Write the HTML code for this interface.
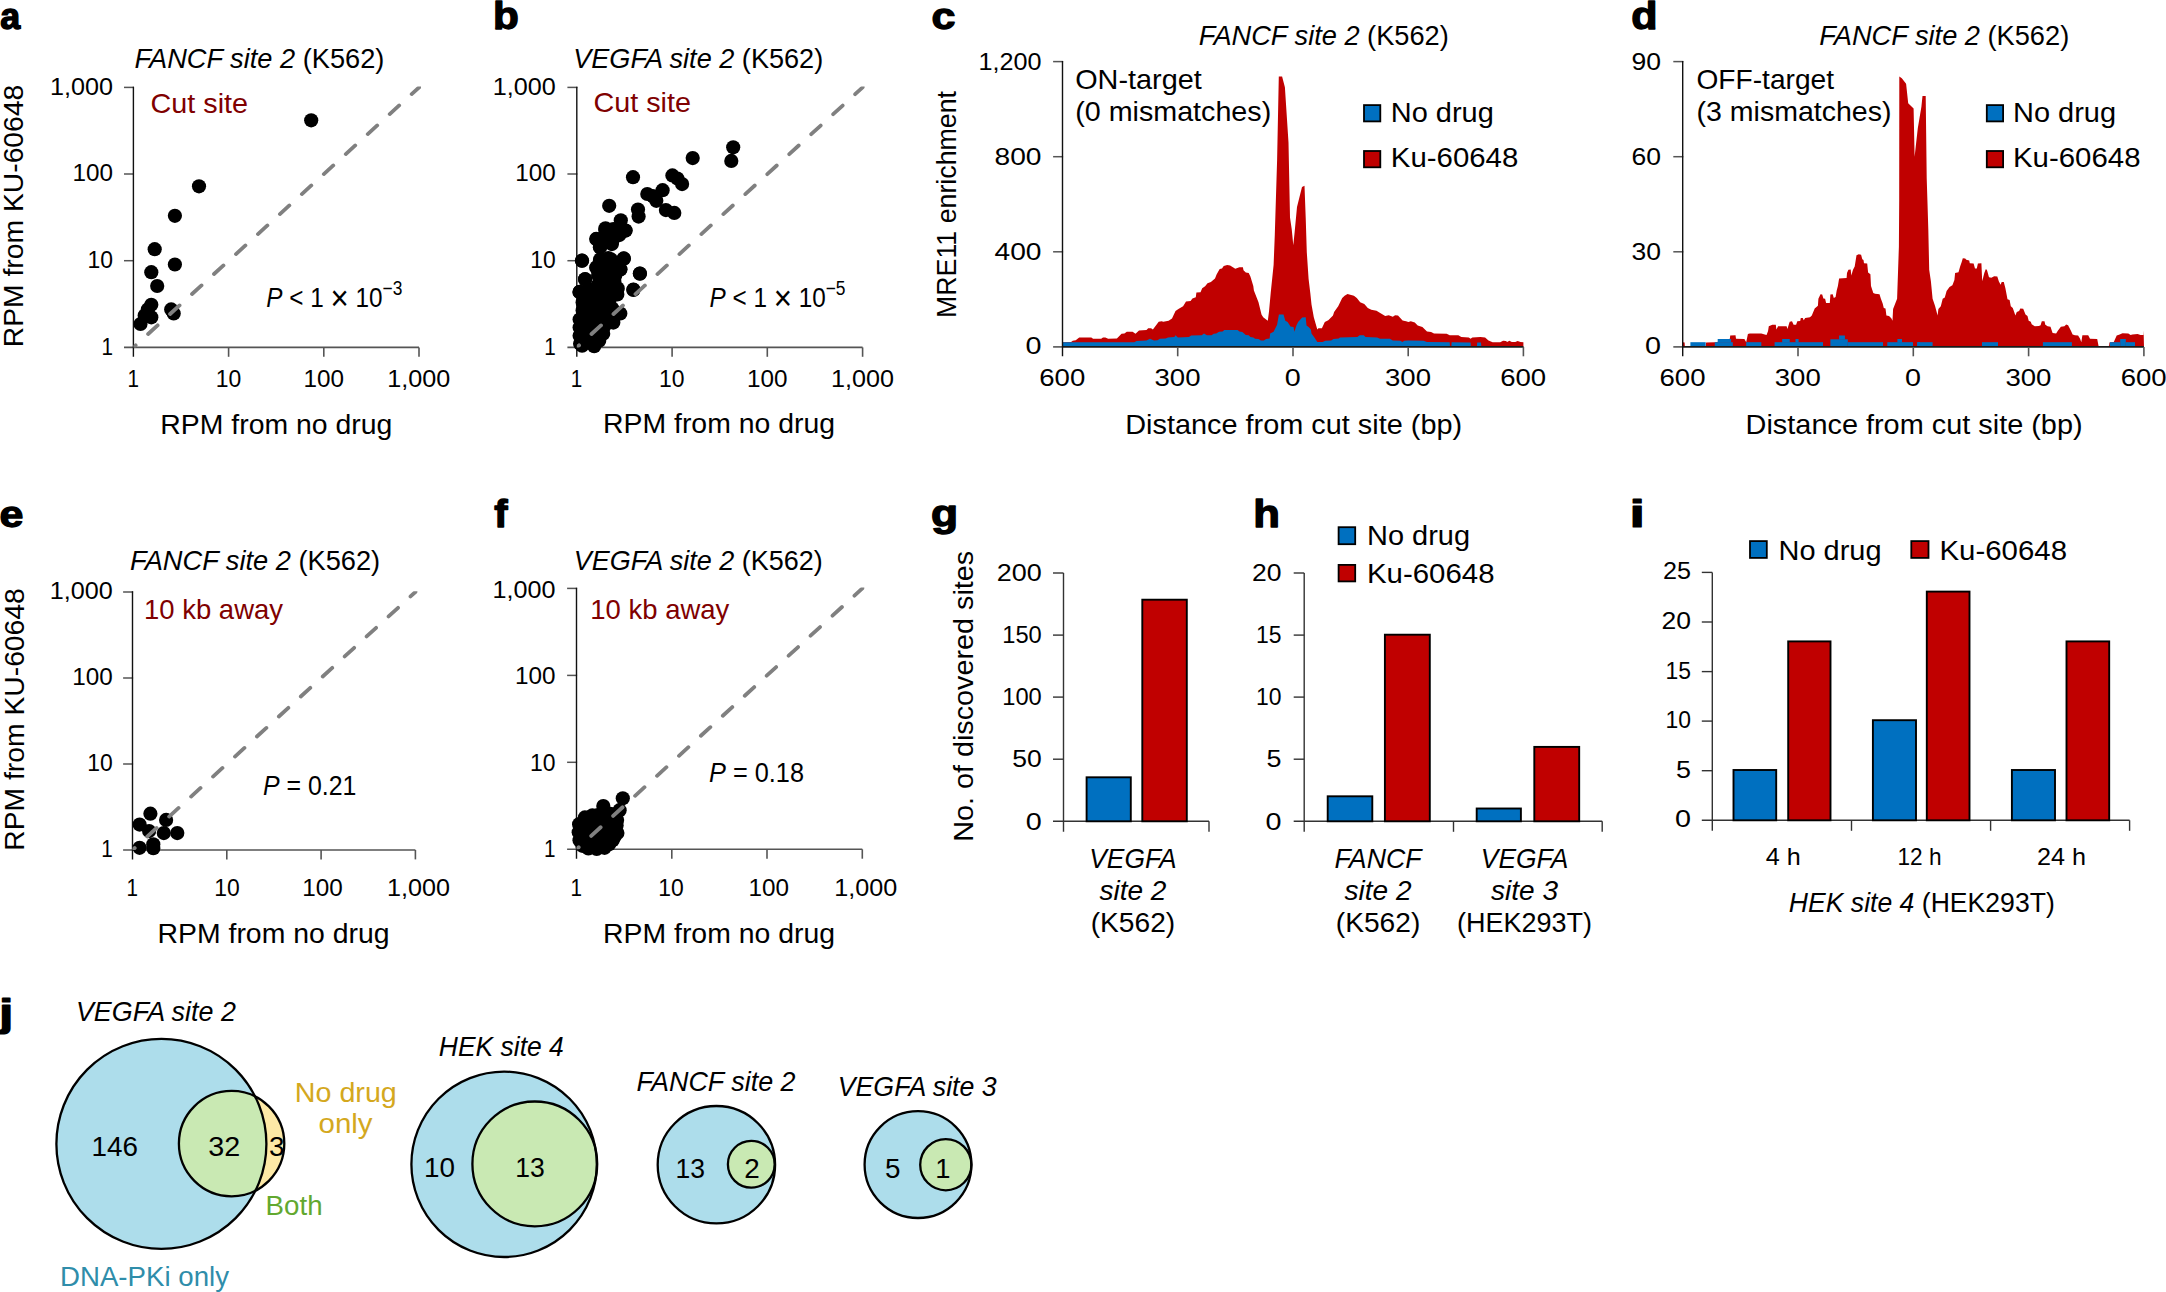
<!DOCTYPE html>
<html lang="en"><head><meta charset="utf-8"><title>Figure</title>
<style>
html,body{margin:0;padding:0;background:#fff;}
svg{display:block;font-family:"Liberation Sans", Arial, sans-serif;}

</style></head><body>
<svg width="2166" height="1292" viewBox="0 0 2166 1292">
<rect width="2166" height="1292" fill="#fff"/>
<line x1="124.0" y1="347.4" x2="419.0" y2="347.4" stroke="#555" stroke-width="1.6" />
<text x="127.5" y="386.6" font-size="23.8" textLength="11.5" lengthAdjust="spacingAndGlyphs" fill="#000">1</text>
<text x="101.6" y="354.8" font-size="23.8" textLength="11.5" lengthAdjust="spacingAndGlyphs" fill="#000">1</text>
<line x1="228.6" y1="347.4" x2="228.6" y2="356.8" stroke="#555" stroke-width="1.6" />
<line x1="124.0" y1="260.7" x2="134.0" y2="260.7" stroke="#555" stroke-width="1.5" />
<text x="215.7" y="386.6" font-size="23.8" textLength="25.5" lengthAdjust="spacingAndGlyphs" fill="#000">10</text>
<text x="87.6" y="268.1" font-size="23.8" textLength="25.5" lengthAdjust="spacingAndGlyphs" fill="#000">10</text>
<line x1="323.8" y1="347.4" x2="323.8" y2="356.8" stroke="#555" stroke-width="1.6" />
<line x1="124.0" y1="174.0" x2="134.0" y2="174.0" stroke="#555" stroke-width="1.5" />
<text x="303.4" y="386.6" font-size="23.8" textLength="40.5" lengthAdjust="spacingAndGlyphs" fill="#000">100</text>
<text x="72.6" y="181.3" font-size="23.8" textLength="40.5" lengthAdjust="spacingAndGlyphs" fill="#000">100</text>
<line x1="419.0" y1="347.4" x2="419.0" y2="356.8" stroke="#555" stroke-width="1.6" />
<line x1="124.0" y1="87.4" x2="134.0" y2="87.4" stroke="#555" stroke-width="1.5" />
<text x="387.3" y="386.6" font-size="23.8" textLength="63.0" lengthAdjust="spacingAndGlyphs" fill="#000">1,000</text>
<text x="50.1" y="94.6" font-size="23.8" textLength="63.0" lengthAdjust="spacingAndGlyphs" fill="#000">1,000</text>
<line x1="133.4" y1="86.7" x2="133.4" y2="356.8" stroke="#111" stroke-width="1.4" />
<circle cx="311.2" cy="120.3" r="7.1" fill="#000"/>
<circle cx="199.0" cy="186.3" r="7.1" fill="#000"/>
<circle cx="174.9" cy="215.8" r="7.1" fill="#000"/>
<circle cx="154.7" cy="249.2" r="7.1" fill="#000"/>
<circle cx="174.9" cy="264.5" r="7.1" fill="#000"/>
<circle cx="151.3" cy="272.2" r="7.1" fill="#000"/>
<circle cx="157.2" cy="286.0" r="7.1" fill="#000"/>
<circle cx="151.3" cy="304.8" r="7.1" fill="#000"/>
<circle cx="147.8" cy="309.4" r="7.1" fill="#000"/>
<circle cx="144.7" cy="315.6" r="7.1" fill="#000"/>
<circle cx="151.3" cy="317.3" r="7.1" fill="#000"/>
<circle cx="140.5" cy="324.0" r="7.1" fill="#000"/>
<circle cx="171.2" cy="309.4" r="7.1" fill="#000"/>
<circle cx="173.7" cy="313.5" r="7.1" fill="#000"/>
<clipPath id="cp1"><rect x="133.4" y="86.6" width="287.6" height="260.8"/></clipPath>
<line x1="133.4" y1="347.4" x2="433.3" y2="74.4" stroke="#808080" stroke-width="3.8" stroke-linecap="round" stroke-dasharray="12.8 16.9" stroke-dashoffset="9.8" clip-path="url(#cp1)"/>
<text x="134.4" y="67.5" font-size="27.3" textLength="250.0" lengthAdjust="spacingAndGlyphs" fill="#000"><tspan font-style="italic">FANCF site 2</tspan> (K562)</text>
<text x="150.6" y="112.7" font-size="27.3" textLength="97.5" lengthAdjust="spacingAndGlyphs" fill="#800000">Cut site</text>
<text x="266.3" y="306.8" font-size="27.3" textLength="136.0" lengthAdjust="spacingAndGlyphs" fill="#000"><tspan font-style="italic">P</tspan> &lt; 1 <tspan font-size="35" dy="3.2">×</tspan><tspan dy="-3.2"> 10</tspan><tspan dy="-12.2" font-size="19.5">−3</tspan></text>
<text x="160.3" y="433.8" font-size="27.3" textLength="232.0" lengthAdjust="spacingAndGlyphs" fill="#000">RPM from no drug</text>
<text x="23.3" y="347.2" font-size="27.3" textLength="262.5" lengthAdjust="spacingAndGlyphs" fill="#000" transform="rotate(-90 23.3 347.2)">RPM from KU-60648</text>
<text transform="translate(0.26 28.73) scale(1.024 1.048)" x="0" y="0" font-size="35" font-weight="bold" fill="#000" stroke="#000" stroke-width="1.35" stroke-linejoin="round">a</text>
<line x1="567.4" y1="347.4" x2="862.6" y2="347.4" stroke="#555" stroke-width="1.6" />
<text x="570.8" y="386.6" font-size="23.8" textLength="11.5" lengthAdjust="spacingAndGlyphs" fill="#000">1</text>
<text x="544.2" y="354.8" font-size="23.8" textLength="11.5" lengthAdjust="spacingAndGlyphs" fill="#000">1</text>
<line x1="672.1" y1="347.4" x2="672.1" y2="356.8" stroke="#555" stroke-width="1.6" />
<line x1="567.4" y1="260.7" x2="577.4" y2="260.7" stroke="#555" stroke-width="1.5" />
<text x="659.1" y="386.6" font-size="23.8" textLength="25.5" lengthAdjust="spacingAndGlyphs" fill="#000">10</text>
<text x="530.2" y="268.1" font-size="23.8" textLength="25.5" lengthAdjust="spacingAndGlyphs" fill="#000">10</text>
<line x1="767.3" y1="347.4" x2="767.3" y2="356.8" stroke="#555" stroke-width="1.6" />
<line x1="567.4" y1="174.0" x2="577.4" y2="174.0" stroke="#555" stroke-width="1.5" />
<text x="746.9" y="386.6" font-size="23.8" textLength="40.5" lengthAdjust="spacingAndGlyphs" fill="#000">100</text>
<text x="515.2" y="181.3" font-size="23.8" textLength="40.5" lengthAdjust="spacingAndGlyphs" fill="#000">100</text>
<line x1="862.6" y1="347.4" x2="862.6" y2="356.8" stroke="#555" stroke-width="1.6" />
<line x1="567.4" y1="87.4" x2="577.4" y2="87.4" stroke="#555" stroke-width="1.5" />
<text x="830.9" y="386.6" font-size="23.8" textLength="63.0" lengthAdjust="spacingAndGlyphs" fill="#000">1,000</text>
<text x="492.7" y="94.6" font-size="23.8" textLength="63.0" lengthAdjust="spacingAndGlyphs" fill="#000">1,000</text>
<line x1="576.8" y1="86.7" x2="576.8" y2="356.8" stroke="#111" stroke-width="1.4" />
<circle cx="733.2" cy="147.3" r="7.1" fill="#000"/>
<circle cx="731.3" cy="160.9" r="7.1" fill="#000"/>
<circle cx="692.7" cy="158.1" r="7.1" fill="#000"/>
<circle cx="633.0" cy="177.2" r="7.1" fill="#000"/>
<circle cx="672.4" cy="175.4" r="7.1" fill="#000"/>
<circle cx="677.4" cy="178.5" r="7.1" fill="#000"/>
<circle cx="682.1" cy="184.1" r="7.1" fill="#000"/>
<circle cx="662.6" cy="190.2" r="7.1" fill="#000"/>
<circle cx="647.3" cy="194.0" r="7.1" fill="#000"/>
<circle cx="652.9" cy="196.2" r="7.1" fill="#000"/>
<circle cx="656.3" cy="200.8" r="7.1" fill="#000"/>
<circle cx="665.9" cy="210.1" r="7.1" fill="#000"/>
<circle cx="674.3" cy="212.9" r="7.1" fill="#000"/>
<circle cx="609.2" cy="205.8" r="7.1" fill="#000"/>
<circle cx="638.0" cy="209.6" r="7.1" fill="#000"/>
<circle cx="638.6" cy="216.6" r="7.1" fill="#000"/>
<circle cx="620.8" cy="220.3" r="7.1" fill="#000"/>
<circle cx="605.5" cy="228.3" r="7.1" fill="#000"/>
<circle cx="625.6" cy="230.6" r="7.1" fill="#000"/>
<circle cx="615.7" cy="233.3" r="7.1" fill="#000"/>
<circle cx="596.2" cy="238.9" r="7.1" fill="#000"/>
<circle cx="612.0" cy="242.6" r="7.1" fill="#000"/>
<circle cx="599.9" cy="247.3" r="7.1" fill="#000"/>
<circle cx="581.9" cy="260.7" r="7.1" fill="#000"/>
<circle cx="623.7" cy="258.4" r="7.1" fill="#000"/>
<circle cx="599.9" cy="261.2" r="7.1" fill="#000"/>
<circle cx="611.1" cy="259.4" r="7.1" fill="#000"/>
<circle cx="596.2" cy="267.7" r="7.1" fill="#000"/>
<circle cx="606.5" cy="264.9" r="7.1" fill="#000"/>
<circle cx="620.4" cy="269.6" r="7.1" fill="#000"/>
<circle cx="613.9" cy="274.2" r="7.1" fill="#000"/>
<circle cx="639.9" cy="273.7" r="7.1" fill="#000"/>
<circle cx="585.1" cy="279.2" r="7.1" fill="#000"/>
<circle cx="601.8" cy="277.9" r="7.1" fill="#000"/>
<circle cx="610.2" cy="281.7" r="7.1" fill="#000"/>
<circle cx="633.4" cy="289.5" r="7.1" fill="#000"/>
<circle cx="579.5" cy="291.9" r="7.1" fill="#000"/>
<circle cx="617.6" cy="288.2" r="7.1" fill="#000"/>
<circle cx="597.2" cy="287.2" r="7.1" fill="#000"/>
<circle cx="589.7" cy="292.8" r="7.1" fill="#000"/>
<circle cx="615.7" cy="293.7" r="7.1" fill="#000"/>
<circle cx="606.5" cy="296.5" r="7.1" fill="#000"/>
<circle cx="605.2" cy="230.0" r="7.1" fill="#000"/>
<circle cx="613.3" cy="229.0" r="7.1" fill="#000"/>
<circle cx="625.4" cy="230.5" r="7.1" fill="#000"/>
<circle cx="619.3" cy="235.1" r="7.1" fill="#000"/>
<circle cx="596.7" cy="239.1" r="7.1" fill="#000"/>
<circle cx="607.3" cy="240.1" r="7.1" fill="#000"/>
<circle cx="600.2" cy="247.1" r="7.1" fill="#000"/>
<circle cx="611.8" cy="244.1" r="7.1" fill="#000"/>
<circle cx="582.1" cy="260.7" r="7.1" fill="#000"/>
<circle cx="600.2" cy="259.2" r="7.1" fill="#000"/>
<circle cx="608.3" cy="258.2" r="7.1" fill="#000"/>
<circle cx="623.9" cy="258.7" r="7.1" fill="#000"/>
<circle cx="596.7" cy="267.3" r="7.1" fill="#000"/>
<circle cx="605.2" cy="267.3" r="7.1" fill="#000"/>
<circle cx="613.3" cy="265.2" r="7.1" fill="#000"/>
<circle cx="620.3" cy="269.3" r="7.1" fill="#000"/>
<circle cx="585.1" cy="279.3" r="7.1" fill="#000"/>
<circle cx="598.2" cy="275.3" r="7.1" fill="#000"/>
<circle cx="607.3" cy="275.3" r="7.1" fill="#000"/>
<circle cx="615.3" cy="275.3" r="7.1" fill="#000"/>
<circle cx="614.3" cy="281.3" r="7.1" fill="#000"/>
<circle cx="579.6" cy="291.9" r="7.1" fill="#000"/>
<circle cx="589.1" cy="289.4" r="7.1" fill="#000"/>
<circle cx="598.2" cy="284.4" r="7.1" fill="#000"/>
<circle cx="607.3" cy="285.4" r="7.1" fill="#000"/>
<circle cx="617.3" cy="289.4" r="7.1" fill="#000"/>
<circle cx="598.2" cy="293.4" r="7.1" fill="#000"/>
<circle cx="608.3" cy="294.4" r="7.1" fill="#000"/>
<circle cx="617.3" cy="294.4" r="7.1" fill="#000"/>
<circle cx="582.6" cy="302.5" r="7.1" fill="#000"/>
<circle cx="582.6" cy="310.5" r="7.1" fill="#000"/>
<circle cx="591.2" cy="300.5" r="7.1" fill="#000"/>
<circle cx="600.2" cy="302.5" r="7.1" fill="#000"/>
<circle cx="609.3" cy="301.5" r="7.1" fill="#000"/>
<circle cx="612.3" cy="308.5" r="7.1" fill="#000"/>
<circle cx="579.6" cy="319.6" r="7.1" fill="#000"/>
<circle cx="579.6" cy="327.6" r="7.1" fill="#000"/>
<circle cx="579.6" cy="335.7" r="7.1" fill="#000"/>
<circle cx="580.1" cy="343.7" r="7.1" fill="#000"/>
<circle cx="582.1" cy="345.7" r="7.1" fill="#000"/>
<circle cx="588.1" cy="310.5" r="7.1" fill="#000"/>
<circle cx="588.1" cy="318.6" r="7.1" fill="#000"/>
<circle cx="588.1" cy="326.6" r="7.1" fill="#000"/>
<circle cx="588.1" cy="334.7" r="7.1" fill="#000"/>
<circle cx="588.1" cy="342.7" r="7.1" fill="#000"/>
<circle cx="594.2" cy="346.2" r="7.1" fill="#000"/>
<circle cx="596.2" cy="310.5" r="7.1" fill="#000"/>
<circle cx="596.2" cy="318.6" r="7.1" fill="#000"/>
<circle cx="596.2" cy="326.6" r="7.1" fill="#000"/>
<circle cx="596.2" cy="334.7" r="7.1" fill="#000"/>
<circle cx="599.2" cy="340.7" r="7.1" fill="#000"/>
<circle cx="604.2" cy="310.5" r="7.1" fill="#000"/>
<circle cx="604.2" cy="318.6" r="7.1" fill="#000"/>
<circle cx="604.2" cy="326.6" r="7.1" fill="#000"/>
<circle cx="603.2" cy="333.7" r="7.1" fill="#000"/>
<circle cx="612.3" cy="315.5" r="7.1" fill="#000"/>
<circle cx="613.3" cy="322.6" r="7.1" fill="#000"/>
<circle cx="620.3" cy="313.5" r="7.1" fill="#000"/>
<circle cx="639.9" cy="273.5" r="7.1" fill="#000"/>
<circle cx="633.4" cy="289.9" r="7.1" fill="#000"/>
<clipPath id="cp2"><rect x="576.8" y="86.6" width="287.8" height="260.8"/></clipPath>
<line x1="576.8" y1="347.4" x2="876.9" y2="74.4" stroke="#808080" stroke-width="3.8" stroke-linecap="round" stroke-dasharray="12.8 16.9" stroke-dashoffset="9.8" clip-path="url(#cp2)"/>
<text x="573.2" y="67.5" font-size="27.3" textLength="250.0" lengthAdjust="spacingAndGlyphs" fill="#000"><tspan font-style="italic">VEGFA site 2</tspan> (K562)</text>
<text x="593.5" y="112.3" font-size="27.3" textLength="97.5" lengthAdjust="spacingAndGlyphs" fill="#800000">Cut site</text>
<text x="709.5" y="306.7" font-size="27.3" textLength="136.0" lengthAdjust="spacingAndGlyphs" fill="#000"><tspan font-style="italic">P</tspan> &lt; 1 <tspan font-size="35" dy="3.2">×</tspan><tspan dy="-3.2"> 10</tspan><tspan dy="-12.2" font-size="19.5">−5</tspan></text>
<text x="603.0" y="433.2" font-size="27.3" textLength="232.0" lengthAdjust="spacingAndGlyphs" fill="#000">RPM from no drug</text>
<text transform="translate(493.01 28.52) scale(1.207 1.085)" x="0" y="0" font-size="35" font-weight="bold" fill="#000" stroke="#000" stroke-width="1.22" stroke-linejoin="round">b</text>
<line x1="123.1" y1="850.0" x2="415.4" y2="850.0" stroke="#555" stroke-width="1.6" />
<text x="126.5" y="896.4" font-size="23.8" textLength="11.5" lengthAdjust="spacingAndGlyphs" fill="#000">1</text>
<text x="101.2" y="857.4" font-size="23.8" textLength="11.5" lengthAdjust="spacingAndGlyphs" fill="#000">1</text>
<line x1="226.8" y1="850.0" x2="226.8" y2="859.4" stroke="#555" stroke-width="1.6" />
<line x1="123.1" y1="764.0" x2="133.1" y2="764.0" stroke="#555" stroke-width="1.5" />
<text x="214.2" y="896.4" font-size="23.8" textLength="25.5" lengthAdjust="spacingAndGlyphs" fill="#000">10</text>
<text x="87.2" y="771.4" font-size="23.8" textLength="25.5" lengthAdjust="spacingAndGlyphs" fill="#000">10</text>
<line x1="321.1" y1="850.0" x2="321.1" y2="859.4" stroke="#555" stroke-width="1.6" />
<line x1="123.1" y1="678.0" x2="133.1" y2="678.0" stroke="#555" stroke-width="1.5" />
<text x="302.2" y="896.4" font-size="23.8" textLength="40.5" lengthAdjust="spacingAndGlyphs" fill="#000">100</text>
<text x="72.2" y="685.4" font-size="23.8" textLength="40.5" lengthAdjust="spacingAndGlyphs" fill="#000">100</text>
<line x1="415.4" y1="850.0" x2="415.4" y2="859.4" stroke="#555" stroke-width="1.6" />
<line x1="123.1" y1="592.0" x2="133.1" y2="592.0" stroke="#555" stroke-width="1.5" />
<text x="387.1" y="896.4" font-size="23.8" textLength="63.0" lengthAdjust="spacingAndGlyphs" fill="#000">1,000</text>
<text x="49.7" y="599.4" font-size="23.8" textLength="63.0" lengthAdjust="spacingAndGlyphs" fill="#000">1,000</text>
<line x1="132.5" y1="591.3" x2="132.5" y2="859.4" stroke="#111" stroke-width="1.4" />
<circle cx="150.4" cy="813.7" r="7.1" fill="#000"/>
<circle cx="139.6" cy="824.6" r="7.1" fill="#000"/>
<circle cx="166.1" cy="819.9" r="7.1" fill="#000"/>
<circle cx="149.1" cy="831.1" r="7.1" fill="#000"/>
<circle cx="163.8" cy="833.1" r="7.1" fill="#000"/>
<circle cx="177.3" cy="833.1" r="7.1" fill="#000"/>
<circle cx="153.3" cy="844.3" r="7.1" fill="#000"/>
<circle cx="139.6" cy="847.8" r="7.1" fill="#000"/>
<circle cx="153.3" cy="848.2" r="7.1" fill="#000"/>
<clipPath id="cp3"><rect x="132.5" y="591.2" width="284.9" height="258.8"/></clipPath>
<line x1="132.5" y1="850.0" x2="429.5" y2="579.1" stroke="#808080" stroke-width="3.8" stroke-linecap="round" stroke-dasharray="12.8 16.9" stroke-dashoffset="9.8" clip-path="url(#cp3)"/>
<text x="130.1" y="569.7" font-size="27.3" textLength="250.0" lengthAdjust="spacingAndGlyphs" fill="#000"><tspan font-style="italic">FANCF site 2</tspan> (K562)</text>
<text x="144.0" y="618.5" font-size="27.3" textLength="139.0" lengthAdjust="spacingAndGlyphs" fill="#800000">10 kb away</text>
<text x="263.0" y="795.4" font-size="27.3" textLength="93.5" lengthAdjust="spacingAndGlyphs" fill="#000"><tspan font-style="italic">P</tspan> = 0.21</text>
<text x="157.5" y="942.8" font-size="27.3" textLength="232.0" lengthAdjust="spacingAndGlyphs" fill="#000">RPM from no drug</text>
<text x="24.0" y="850.7" font-size="27.3" textLength="262.5" lengthAdjust="spacingAndGlyphs" fill="#000" transform="rotate(-90 24.0 850.7)">RPM from KU-60648</text>
<text transform="translate(-0.38 526.83) scale(1.230 1.048)" x="0" y="0" font-size="35" font-weight="bold" fill="#000" stroke="#000" stroke-width="1.23" stroke-linejoin="round">e</text>
<line x1="567.1" y1="849.3" x2="862.3" y2="849.3" stroke="#555" stroke-width="1.6" />
<text x="570.5" y="895.9" font-size="23.8" textLength="11.5" lengthAdjust="spacingAndGlyphs" fill="#000">1</text>
<text x="544.0" y="857.4" font-size="23.8" textLength="11.5" lengthAdjust="spacingAndGlyphs" fill="#000">1</text>
<line x1="671.8" y1="849.3" x2="671.8" y2="858.7" stroke="#555" stroke-width="1.6" />
<line x1="567.1" y1="762.3" x2="577.1" y2="762.3" stroke="#555" stroke-width="1.5" />
<text x="658.2" y="895.9" font-size="23.8" textLength="25.5" lengthAdjust="spacingAndGlyphs" fill="#000">10</text>
<text x="530.0" y="770.9" font-size="23.8" textLength="25.5" lengthAdjust="spacingAndGlyphs" fill="#000">10</text>
<line x1="767.0" y1="849.3" x2="767.0" y2="858.7" stroke="#555" stroke-width="1.6" />
<line x1="567.1" y1="675.4" x2="577.1" y2="675.4" stroke="#555" stroke-width="1.5" />
<text x="748.4" y="895.9" font-size="23.8" textLength="40.5" lengthAdjust="spacingAndGlyphs" fill="#000">100</text>
<text x="515.0" y="684.3" font-size="23.8" textLength="40.5" lengthAdjust="spacingAndGlyphs" fill="#000">100</text>
<line x1="862.3" y1="849.3" x2="862.3" y2="858.7" stroke="#555" stroke-width="1.6" />
<line x1="567.1" y1="588.4" x2="577.1" y2="588.4" stroke="#555" stroke-width="1.5" />
<text x="834.2" y="895.9" font-size="23.8" textLength="63.0" lengthAdjust="spacingAndGlyphs" fill="#000">1,000</text>
<text x="492.5" y="597.8" font-size="23.8" textLength="63.0" lengthAdjust="spacingAndGlyphs" fill="#000">1,000</text>
<line x1="576.5" y1="587.7" x2="576.5" y2="858.7" stroke="#111" stroke-width="1.4" />
<polygon points="579.4,824.7 584.7,818.1 592.4,815.5 611.1,814.5 617.2,819.6 617.2,832.4 611.9,840.9 605.1,848.4 589.0,848.4 582.1,846.0 579.4,840.9" fill="#000" stroke="#000" stroke-width="9" stroke-linejoin="round"/>
<circle cx="579.1" cy="824.2" r="7.1" fill="#000"/>
<circle cx="584.9" cy="817.4" r="7.1" fill="#000"/>
<circle cx="592.4" cy="815.3" r="7.1" fill="#000"/>
<circle cx="597.9" cy="815.2" r="7.1" fill="#000"/>
<circle cx="604.1" cy="814.7" r="7.1" fill="#000"/>
<circle cx="610.4" cy="813.8" r="7.1" fill="#000"/>
<circle cx="617.1" cy="820.1" r="7.1" fill="#000"/>
<circle cx="616.6" cy="825.6" r="7.1" fill="#000"/>
<circle cx="617.4" cy="833.1" r="7.1" fill="#000"/>
<circle cx="614.7" cy="836.5" r="7.1" fill="#000"/>
<circle cx="612.7" cy="840.2" r="7.1" fill="#000"/>
<circle cx="609.1" cy="844.3" r="7.1" fill="#000"/>
<circle cx="604.6" cy="847.8" r="7.1" fill="#000"/>
<circle cx="596.7" cy="848.9" r="7.1" fill="#000"/>
<circle cx="588.4" cy="848.5" r="7.1" fill="#000"/>
<circle cx="582.4" cy="845.8" r="7.1" fill="#000"/>
<circle cx="579.5" cy="840.2" r="7.1" fill="#000"/>
<circle cx="578.7" cy="832.3" r="7.1" fill="#000"/>
<circle cx="622.8" cy="798.3" r="7.1" fill="#000"/>
<circle cx="603.3" cy="806.0" r="7.1" fill="#000"/>
<circle cx="619.6" cy="810.2" r="7.1" fill="#000"/>
<clipPath id="cp4"><rect x="576.5" y="587.6" width="287.8" height="261.7"/></clipPath>
<line x1="576.5" y1="849.3" x2="876.6" y2="575.4" stroke="#808080" stroke-width="3.8" stroke-linecap="round" stroke-dasharray="12.8 16.9" stroke-dashoffset="9.8" clip-path="url(#cp4)"/>
<text x="573.7" y="569.7" font-size="27.3" textLength="249.0" lengthAdjust="spacingAndGlyphs" fill="#000"><tspan font-style="italic">VEGFA site 2</tspan> (K562)</text>
<text x="590.3" y="618.5" font-size="27.3" textLength="139.0" lengthAdjust="spacingAndGlyphs" fill="#800000">10 kb away</text>
<text x="709.0" y="781.6" font-size="27.3" textLength="95.0" lengthAdjust="spacingAndGlyphs" fill="#000"><tspan font-style="italic">P</tspan> = 0.18</text>
<text x="603.0" y="942.8" font-size="27.3" textLength="232.0" lengthAdjust="spacingAndGlyphs" fill="#000">RPM from no drug</text>
<text transform="translate(494.22 526.70) scale(1.141 1.096)" x="0" y="0" font-size="35" font-weight="bold" fill="#000" stroke="#000" stroke-width="1.25" stroke-linejoin="round">f</text>
<polygon points="1062.9,342.2 1071.0,341.9 1072.8,340.7 1075.7,340.3 1079.2,337.6 1091.3,337.4 1093.1,338.8 1101.2,338.8 1103.0,337.4 1105.3,337.4 1108.2,338.8 1116.9,338.5 1121.5,333.8 1124.4,333.5 1126.8,331.8 1132.6,331.8 1135.5,333.8 1139.0,330.6 1146.5,330.0 1148.2,328.3 1151.1,328.3 1152.9,329.5 1158.7,321.7 1161.6,321.3 1163.3,321.7 1168.6,320.8 1172.0,318.4 1175.5,310.9 1178.4,308.9 1183.1,306.2 1186.0,301.6 1190.6,301.0 1192.4,298.5 1195.8,297.3 1196.4,292.5 1200.5,292.3 1202.2,288.2 1205.1,286.2 1207.5,283.3 1210.9,282.1 1215.0,278.4 1216.7,274.3 1219.7,269.1 1222.0,268.5 1223.7,266.0 1227.2,265.0 1230.1,265.6 1235.3,268.7 1239.4,267.3 1242.9,267.3 1243.5,270.2 1245.8,272.6 1248.7,272.9 1250.4,276.6 1253.3,285.9 1253.9,290.6 1258.5,302.2 1261.5,314.4 1263.2,317.3 1267.8,320.8 1269.0,311.5 1270.7,292.9 1273.6,265.0 1274.8,234.8 1277.1,160.2 1278.8,76.5 1282.1,76.5 1284.9,87.2 1288.5,142.4 1290.0,217.4 1291.7,229.0 1293.3,245.3 1294.6,232.5 1297.0,207.0 1302.0,186.9 1304.5,185.8 1305.7,217.4 1306.8,252.2 1308.6,279.0 1310.3,292.9 1311.5,304.5 1313.8,317.3 1317.3,329.5 1318.4,328.3 1321.9,328.3 1324.8,321.9 1328.3,320.2 1333.0,315.5 1334.1,312.0 1338.2,306.2 1342.2,297.9 1344.6,295.8 1347.5,294.0 1353.9,295.8 1356.8,298.1 1360.2,302.2 1364.3,303.9 1367.8,308.0 1371.3,309.7 1376.5,310.7 1380.6,313.2 1385.2,316.1 1388.7,315.3 1392.8,316.7 1395.1,315.3 1398.0,315.5 1402.6,320.5 1406.1,321.3 1408.4,321.9 1410.8,321.3 1414.8,322.5 1417.7,325.4 1422.4,327.1 1427.0,331.6 1431.1,332.0 1434.0,333.5 1446.7,333.8 1449.7,335.3 1458.4,335.3 1461.3,337.0 1468.8,337.6 1470.6,338.8 1472.3,337.4 1480.4,337.0 1485.1,337.4 1488.5,340.5 1492.6,342.2 1500.2,342.2 1503.1,340.7 1506.0,341.1 1507.1,341.9 1509.4,340.7 1511.8,341.9 1515.3,341.9 1517.6,341.1 1520.5,341.9 1523.4,342.2 1523.4,346.9 1062.9,346.9" fill="#C00000"/>
<polygon points="1062.9,342.2 1134.3,342.2 1136.6,341.1 1146.5,340.5 1150.0,338.8 1154.0,340.5 1157.5,340.3 1159.9,338.8 1165.7,338.5 1168.0,337.4 1174.4,337.0 1175.5,335.3 1177.9,337.4 1188.9,337.0 1191.2,335.5 1201.7,335.3 1204.0,333.5 1206.9,335.3 1211.5,335.3 1213.8,333.8 1216.2,333.5 1219.1,331.8 1222.6,331.6 1224.3,330.0 1237.6,330.0 1239.4,331.6 1242.3,332.0 1245.8,334.9 1248.7,335.3 1250.4,337.0 1253.3,337.4 1255.1,338.8 1258.5,339.0 1260.9,340.5 1263.8,340.5 1266.1,339.0 1269.6,338.5 1270.2,333.5 1273.6,331.8 1277.1,324.8 1278.9,314.4 1283.5,314.4 1285.3,320.8 1287.6,321.9 1290.5,326.6 1290.0,326.6 1293.5,327.1 1294.4,331.8 1296.4,325.4 1298.1,321.9 1302.2,317.5 1305.7,317.3 1306.5,325.4 1308.6,327.1 1310.9,329.5 1311.5,333.5 1314.4,337.6 1317.3,341.9 1322.5,341.9 1325.4,340.7 1331.2,340.5 1333.5,339.0 1338.8,338.5 1339.9,337.4 1357.3,337.0 1359.7,335.3 1363.7,335.3 1365.5,337.0 1377.1,337.4 1380.0,338.8 1389.9,338.8 1392.8,340.5 1400.3,340.7 1402.4,341.9 1404.4,340.7 1408.4,340.5 1423.5,340.7 1427.0,341.9 1449.7,342.2 1450.0,346.9 1451.4,346.9 1451.6,342.2 1470.6,342.6 1470.9,346.9 1476.9,346.9 1477.2,342.6 1481.0,342.6 1481.3,346.9 1062.9,346.9" fill="#0070C0"/>
<text transform="translate(931.52 28.73) scale(1.230 1.048)" x="0" y="0" font-size="35" font-weight="bold" fill="#000" stroke="#000" stroke-width="1.23" stroke-linejoin="round">c</text>
<line x1="1053.1" y1="346.9" x2="1062.5" y2="346.9" stroke="#555" stroke-width="1.6" />
<line x1="1062.5" y1="346.9" x2="1523.4" y2="346.9" stroke="#1a1a1a" stroke-width="1.6" />
<text x="1039.3" y="385.6" font-size="23.8" textLength="46.0" lengthAdjust="spacingAndGlyphs" fill="#000">600</text>
<line x1="1177.7" y1="346.9" x2="1177.7" y2="356.3" stroke="#555" stroke-width="1.6" />
<text x="1154.5" y="385.6" font-size="23.8" textLength="46.0" lengthAdjust="spacingAndGlyphs" fill="#000">300</text>
<line x1="1293.0" y1="346.9" x2="1293.0" y2="356.3" stroke="#555" stroke-width="1.6" />
<text x="1284.8" y="385.6" font-size="23.8" textLength="16.0" lengthAdjust="spacingAndGlyphs" fill="#000">0</text>
<line x1="1408.2" y1="346.9" x2="1408.2" y2="356.3" stroke="#555" stroke-width="1.6" />
<text x="1385.0" y="385.6" font-size="23.8" textLength="46.0" lengthAdjust="spacingAndGlyphs" fill="#000">300</text>
<line x1="1523.4" y1="346.9" x2="1523.4" y2="356.3" stroke="#555" stroke-width="1.6" />
<text x="1500.2" y="385.6" font-size="23.8" textLength="46.0" lengthAdjust="spacingAndGlyphs" fill="#000">600</text>
<text x="1025.5" y="354.0" font-size="23.8" textLength="16.0" lengthAdjust="spacingAndGlyphs" fill="#000">0</text>
<line x1="1053.1" y1="251.8" x2="1063.1" y2="251.8" stroke="#555" stroke-width="1.5" />
<text x="994.5" y="259.5" font-size="23.8" textLength="47.0" lengthAdjust="spacingAndGlyphs" fill="#000">400</text>
<line x1="1053.1" y1="156.7" x2="1063.1" y2="156.7" stroke="#555" stroke-width="1.5" />
<text x="994.5" y="164.9" font-size="23.8" textLength="47.0" lengthAdjust="spacingAndGlyphs" fill="#000">800</text>
<line x1="1053.1" y1="61.6" x2="1063.1" y2="61.6" stroke="#555" stroke-width="1.5" />
<text x="978.5" y="70.4" font-size="23.8" textLength="63.0" lengthAdjust="spacingAndGlyphs" fill="#000">1,200</text>
<line x1="1062.5" y1="60.9" x2="1062.5" y2="356.3" stroke="#111" stroke-width="1.4" />
<text x="1198.8" y="44.9" font-size="27.3" textLength="250.0" lengthAdjust="spacingAndGlyphs" fill="#000"><tspan font-style="italic">FANCF site 2</tspan> (K562)</text>
<text x="1075.2" y="88.5" font-size="27.3" textLength="126.5" lengthAdjust="spacingAndGlyphs" fill="#000">ON-target</text>
<text x="1075.2" y="120.5" font-size="27.3" textLength="196.0" lengthAdjust="spacingAndGlyphs" fill="#000">(0 mismatches)</text>
<rect x="1364.0" y="105.1" width="16.3" height="16.3" fill="#0070C0" stroke="#000" stroke-width="1.8"/>
<rect x="1364.0" y="151.0" width="16.3" height="16.3" fill="#C00000" stroke="#000" stroke-width="1.8"/>
<text x="1390.8" y="121.8" font-size="27.3" textLength="103.0" lengthAdjust="spacingAndGlyphs" fill="#000">No drug</text>
<text x="1390.8" y="167.4" font-size="27.3" textLength="127.5" lengthAdjust="spacingAndGlyphs" fill="#000">Ku-60648</text>
<text x="1125.2" y="433.7" font-size="27.3" textLength="337.0" lengthAdjust="spacingAndGlyphs" fill="#000">Distance from cut site (bp)</text>
<text x="955.8" y="318.0" font-size="27.3" textLength="227.0" lengthAdjust="spacingAndGlyphs" fill="#000" transform="rotate(-90 955.8 318.0)">MRE11 enrichment</text>
<polygon points="1705.8,346.8 1706.1,342.6 1714.8,342.2 1717.2,341.9 1729.9,338.8 1730.2,335.5 1735.5,335.3 1736.0,338.8 1744.4,339.0 1746.2,342.2 1747.9,334.1 1749.7,333.5 1761.3,333.5 1766.5,334.9 1768.0,331.2 1768.8,326.3 1772.3,324.8 1775.8,324.8 1776.4,329.5 1778.1,326.3 1786.6,326.3 1787.4,329.1 1789.7,321.7 1792.0,321.3 1793.6,324.8 1796.1,324.8 1797.3,321.3 1800.2,321.0 1800.8,317.9 1802.8,317.9 1803.7,320.2 1805.2,317.9 1810.0,317.3 1811.8,315.5 1814.7,308.6 1817.9,305.7 1818.4,298.7 1820.5,294.3 1822.2,294.6 1823.4,298.5 1825.1,298.7 1826.1,303.1 1829.8,303.1 1830.4,294.6 1832.7,294.3 1833.8,298.1 1835.6,297.0 1836.7,290.6 1837.9,285.9 1839.1,278.4 1846.6,278.0 1847.0,273.1 1848.4,269.7 1850.7,269.4 1851.3,275.5 1853.0,269.7 1854.7,266.4 1856.5,255.2 1858.8,254.3 1861.1,254.8 1862.3,259.2 1863.5,260.1 1864.0,263.3 1867.2,263.6 1868.1,272.6 1870.4,274.3 1871.0,285.9 1873.3,292.9 1875.1,293.8 1879.5,294.3 1880.9,298.7 1882.6,303.3 1883.8,308.0 1885.5,308.6 1886.4,315.5 1889.0,316.1 1891.3,318.2 1892.5,320.8 1893.1,309.1 1897.1,298.7 1898.9,246.4 1899.2,200.0 1899.3,76.6 1901.8,78.3 1906.1,83.7 1908.2,103.3 1913.6,108.6 1914.6,156.7 1917.8,128.2 1921.4,106.8 1922.5,96.1 1925.7,96.1 1926.7,178.0 1927.4,200.0 1928.3,229.0 1929.2,269.7 1930.9,281.3 1932.6,298.7 1935.0,305.7 1937.6,315.5 1938.4,309.1 1940.8,306.2 1942.7,298.7 1944.8,297.5 1946.6,291.1 1949.5,287.1 1952.4,285.3 1954.4,280.1 1955.1,273.1 1958.5,272.2 1960.2,266.2 1961.7,262.1 1962.8,258.3 1965.2,258.6 1966.3,259.8 1969.2,260.4 1969.8,263.3 1973.6,263.6 1975.0,268.5 1976.8,268.5 1977.9,263.6 1981.4,263.3 1982.2,281.3 1984.3,273.1 1985.7,269.3 1986.9,269.7 1989.0,277.2 1991.3,277.8 1994.2,276.3 1997.3,276.6 1998.8,281.3 2000.6,284.8 2001.7,281.9 2003.8,281.9 2005.4,288.2 2007.5,299.3 2009.6,299.9 2010.8,306.2 2012.8,308.0 2015.4,315.5 2016.8,312.0 2019.1,310.9 2020.3,308.6 2023.2,308.8 2025.5,314.4 2027.5,316.1 2028.7,320.8 2030.8,321.7 2031.7,324.2 2034.8,326.3 2038.9,326.0 2040.6,325.2 2041.8,321.3 2044.5,321.3 2045.3,324.8 2047.6,326.3 2050.5,326.8 2052.6,332.9 2056.1,333.5 2058.0,330.6 2060.9,326.8 2064.4,326.3 2066.2,324.5 2068.1,325.2 2070.8,330.6 2072.6,334.5 2074.9,335.3 2078.1,335.6 2080.1,338.8 2081.3,342.2 2082.4,335.3 2088.2,335.3 2090.0,338.8 2097.2,339.1 2098.7,346.8" fill="#C00000"/>
<polygon points="1682.9,346.8 1682.9,342.2 1684.6,342.6 1684.9,346.8" fill="#C00000"/>
<polygon points="2106.2,346.8 2109.1,345.7 2109.5,342.6 2113.8,341.9 2116.7,335.6 2119.0,334.7 2122.5,333.3 2128.3,333.5 2130.6,334.9 2132.4,334.5 2137.6,334.1 2140.5,334.9 2143.4,334.9 2143.6,330.6 2144.0,346.8" fill="#C00000"/>
<rect x="1690.4" y="342.2" width="15.3" height="4.7" fill="#0070C0"/>
<rect x="1714.8" y="342.2" width="18.0" height="4.7" fill="#0070C0"/>
<rect x="1717.7" y="339.0" width="13.4" height="3.6" fill="#0070C0"/>
<rect x="1746.2" y="342.2" width="15.1" height="4.7" fill="#0070C0"/>
<rect x="1774.6" y="342.2" width="48.4" height="4.7" fill="#0070C0"/>
<rect x="1782.2" y="339.0" width="7.5" height="3.6" fill="#0070C0"/>
<rect x="1795.5" y="339.0" width="3.1" height="3.6" fill="#0070C0"/>
<rect x="1830.4" y="339.3" width="17.4" height="7.6" fill="#0070C0"/>
<rect x="1839.1" y="335.5" width="5.8" height="4.1" fill="#0070C0"/>
<rect x="1847.8" y="342.2" width="35.2" height="4.7" fill="#0070C0"/>
<rect x="1887.3" y="342.2" width="25.5" height="4.7" fill="#0070C0"/>
<rect x="1897.4" y="339.0" width="4.6" height="3.6" fill="#0070C0"/>
<rect x="1917.4" y="342.2" width="2.6" height="4.7" fill="#0070C0"/>
<rect x="1910.0" y="342.6" width="2.9" height="4.4" fill="#0070C0"/>
<rect x="1917.2" y="342.2" width="15.4" height="4.7" fill="#0070C0"/>
<rect x="1982.0" y="342.2" width="16.0" height="4.7" fill="#0070C0"/>
<rect x="2042.9" y="342.2" width="29.0" height="4.7" fill="#0070C0"/>
<rect x="2109.9" y="342.2" width="10.2" height="4.7" fill="#0070C0"/>
<rect x="2120.2" y="339.0" width="5.6" height="8.0" fill="#0070C0"/>
<rect x="2125.7" y="342.2" width="9.3" height="4.7" fill="#0070C0"/>
<text transform="translate(1631.23 28.72) scale(1.230 1.092)" x="0" y="0" font-size="35" font-weight="bold" fill="#000" stroke="#000" stroke-width="1.21" stroke-linejoin="round">d</text>
<line x1="1673.3" y1="346.9" x2="1682.7" y2="346.9" stroke="#555" stroke-width="1.6" />
<line x1="1682.7" y1="346.9" x2="2143.9" y2="346.9" stroke="#1a1a1a" stroke-width="1.6" />
<text x="1659.5" y="385.6" font-size="23.8" textLength="46.0" lengthAdjust="spacingAndGlyphs" fill="#000">600</text>
<line x1="1798.0" y1="346.9" x2="1798.0" y2="356.3" stroke="#555" stroke-width="1.6" />
<text x="1774.8" y="385.6" font-size="23.8" textLength="46.0" lengthAdjust="spacingAndGlyphs" fill="#000">300</text>
<line x1="1913.3" y1="346.9" x2="1913.3" y2="356.3" stroke="#555" stroke-width="1.6" />
<text x="1905.1" y="385.6" font-size="23.8" textLength="16.0" lengthAdjust="spacingAndGlyphs" fill="#000">0</text>
<line x1="2028.6" y1="346.9" x2="2028.6" y2="356.3" stroke="#555" stroke-width="1.6" />
<text x="2005.4" y="385.6" font-size="23.8" textLength="46.0" lengthAdjust="spacingAndGlyphs" fill="#000">300</text>
<line x1="2143.9" y1="346.9" x2="2143.9" y2="356.3" stroke="#555" stroke-width="1.6" />
<text x="2120.7" y="385.6" font-size="23.8" textLength="46.0" lengthAdjust="spacingAndGlyphs" fill="#000">600</text>
<text x="1645.1" y="354.0" font-size="23.8" textLength="16.0" lengthAdjust="spacingAndGlyphs" fill="#000">0</text>
<line x1="1673.3" y1="251.8" x2="1683.3" y2="251.8" stroke="#555" stroke-width="1.5" />
<text x="1631.6" y="259.5" font-size="23.8" textLength="29.5" lengthAdjust="spacingAndGlyphs" fill="#000">30</text>
<line x1="1673.3" y1="156.7" x2="1683.3" y2="156.7" stroke="#555" stroke-width="1.5" />
<text x="1631.6" y="164.9" font-size="23.8" textLength="29.5" lengthAdjust="spacingAndGlyphs" fill="#000">60</text>
<line x1="1673.3" y1="61.6" x2="1683.3" y2="61.6" stroke="#555" stroke-width="1.5" />
<text x="1631.6" y="70.4" font-size="23.8" textLength="29.5" lengthAdjust="spacingAndGlyphs" fill="#000">90</text>
<line x1="1682.7" y1="60.9" x2="1682.7" y2="356.3" stroke="#111" stroke-width="1.4" />
<text x="1819.2" y="44.9" font-size="27.3" textLength="250.0" lengthAdjust="spacingAndGlyphs" fill="#000"><tspan font-style="italic">FANCF site 2</tspan> (K562)</text>
<text x="1696.5" y="88.5" font-size="27.3" textLength="137.5" lengthAdjust="spacingAndGlyphs" fill="#000">OFF-target</text>
<text x="1696.5" y="120.5" font-size="27.3" textLength="195.0" lengthAdjust="spacingAndGlyphs" fill="#000">(3 mismatches)</text>
<rect x="1986.8" y="105.1" width="16.3" height="16.3" fill="#0070C0" stroke="#000" stroke-width="1.8"/>
<rect x="1986.8" y="151.0" width="16.3" height="16.3" fill="#C00000" stroke="#000" stroke-width="1.8"/>
<text x="2013.0" y="121.8" font-size="27.3" textLength="103.0" lengthAdjust="spacingAndGlyphs" fill="#000">No drug</text>
<text x="2013.0" y="167.4" font-size="27.3" textLength="127.5" lengthAdjust="spacingAndGlyphs" fill="#000">Ku-60648</text>
<text x="1745.6" y="433.7" font-size="27.3" textLength="337.0" lengthAdjust="spacingAndGlyphs" fill="#000">Distance from cut site (bp)</text>
<line x1="1063.5" y1="573.0" x2="1063.5" y2="831.8" stroke="#333" stroke-width="1.4" />
<line x1="1053.0" y1="821.3" x2="1209.0" y2="821.3" stroke="#333" stroke-width="1.4" />
<line x1="1209.0" y1="821.3" x2="1209.0" y2="831.8" stroke="#333" stroke-width="1.4" />
<text x="1025.8" y="829.5" font-size="23.8" textLength="16.0" lengthAdjust="spacingAndGlyphs" fill="#000">0</text>
<line x1="1053.0" y1="759.2" x2="1063.5" y2="759.2" stroke="#333" stroke-width="1.4" />
<text x="1012.3" y="767.4" font-size="23.8" textLength="29.5" lengthAdjust="spacingAndGlyphs" fill="#000">50</text>
<line x1="1053.0" y1="697.1" x2="1063.5" y2="697.1" stroke="#333" stroke-width="1.4" />
<text x="1002.3" y="705.4" font-size="23.8" textLength="39.5" lengthAdjust="spacingAndGlyphs" fill="#000">100</text>
<line x1="1053.0" y1="635.1" x2="1063.5" y2="635.1" stroke="#333" stroke-width="1.4" />
<text x="1002.3" y="643.3" font-size="23.8" textLength="39.5" lengthAdjust="spacingAndGlyphs" fill="#000">150</text>
<line x1="1053.0" y1="573.0" x2="1063.5" y2="573.0" stroke="#333" stroke-width="1.4" />
<text x="996.8" y="581.2" font-size="23.8" textLength="45.0" lengthAdjust="spacingAndGlyphs" fill="#000">200</text>
<rect x="1086.6" y="777.3" width="44.2" height="44.0" fill="#0070C0" stroke="#000" stroke-width="1.9"/>
<rect x="1142.3" y="599.7" width="44.5" height="221.6" fill="#C00000" stroke="#000" stroke-width="1.9"/>
<text transform="translate(930.98 526.49) scale(1.267 1.039)" x="0" y="0" font-size="35" font-weight="bold" fill="#000" stroke="#000" stroke-width="1.21" stroke-linejoin="round">g</text>
<text x="972.6" y="841.8" font-size="27.3" textLength="291.0" lengthAdjust="spacingAndGlyphs" fill="#000" transform="rotate(-90 972.6 841.8)">No. of discovered sites</text>
<text x="1089.2" y="868.0" font-size="27.3" textLength="87.5" lengthAdjust="spacingAndGlyphs" fill="#000" font-style="italic">VEGFA</text>
<text x="1099.4" y="900.1" font-size="27.3" textLength="67.0" lengthAdjust="spacingAndGlyphs" fill="#000" font-style="italic">site 2</text>
<text x="1090.7" y="932.2" font-size="27.3" textLength="84.5" lengthAdjust="spacingAndGlyphs" fill="#000">(K562)</text>
<line x1="1304.2" y1="573.0" x2="1304.2" y2="831.8" stroke="#333" stroke-width="1.4" />
<line x1="1293.7" y1="821.3" x2="1602.2" y2="821.3" stroke="#333" stroke-width="1.4" />
<line x1="1453.5" y1="821.3" x2="1453.5" y2="831.8" stroke="#333" stroke-width="1.4" />
<line x1="1602.2" y1="821.3" x2="1602.2" y2="831.8" stroke="#333" stroke-width="1.4" />
<text x="1265.4" y="829.5" font-size="23.8" textLength="16.0" lengthAdjust="spacingAndGlyphs" fill="#000">0</text>
<line x1="1293.7" y1="759.2" x2="1304.2" y2="759.2" stroke="#333" stroke-width="1.4" />
<text x="1266.4" y="767.4" font-size="23.8" textLength="15.0" lengthAdjust="spacingAndGlyphs" fill="#000">5</text>
<line x1="1293.7" y1="697.1" x2="1304.2" y2="697.1" stroke="#333" stroke-width="1.4" />
<text x="1255.9" y="705.4" font-size="23.8" textLength="25.5" lengthAdjust="spacingAndGlyphs" fill="#000">10</text>
<line x1="1293.7" y1="635.1" x2="1304.2" y2="635.1" stroke="#333" stroke-width="1.4" />
<text x="1255.9" y="643.3" font-size="23.8" textLength="25.5" lengthAdjust="spacingAndGlyphs" fill="#000">15</text>
<line x1="1293.7" y1="573.0" x2="1304.2" y2="573.0" stroke="#333" stroke-width="1.4" />
<text x="1251.9" y="581.2" font-size="23.8" textLength="29.5" lengthAdjust="spacingAndGlyphs" fill="#000">20</text>
<rect x="1327.7" y="796.3" width="44.6" height="25.0" fill="#0070C0" stroke="#000" stroke-width="1.9"/>
<rect x="1384.9" y="634.7" width="44.9" height="186.6" fill="#C00000" stroke="#000" stroke-width="1.9"/>
<rect x="1476.7" y="808.5" width="44.2" height="12.8" fill="#0070C0" stroke="#000" stroke-width="1.9"/>
<rect x="1534.3" y="746.9" width="44.9" height="74.4" fill="#C00000" stroke="#000" stroke-width="1.9"/>
<text transform="translate(1253.15 526.70) scale(1.247 1.096)" x="0" y="0" font-size="35" font-weight="bold" fill="#000" stroke="#000" stroke-width="1.20" stroke-linejoin="round">h</text>
<rect x="1338.6" y="527.2" width="16.6" height="17.0" fill="#0070C0" stroke="#000" stroke-width="1.8"/>
<rect x="1338.6" y="564.9" width="16.6" height="16.5" fill="#C00000" stroke="#000" stroke-width="1.8"/>
<text x="1367.0" y="545.0" font-size="27.3" textLength="103.0" lengthAdjust="spacingAndGlyphs" fill="#000">No drug</text>
<text x="1367.0" y="582.5" font-size="27.3" textLength="127.5" lengthAdjust="spacingAndGlyphs" fill="#000">Ku-60648</text>
<text x="1334.5" y="868.0" font-size="27.3" textLength="87.0" lengthAdjust="spacingAndGlyphs" fill="#000" font-style="italic">FANCF</text>
<text x="1344.5" y="900.1" font-size="27.3" textLength="67.0" lengthAdjust="spacingAndGlyphs" fill="#000" font-style="italic">site 2</text>
<text x="1335.8" y="932.2" font-size="27.3" textLength="84.5" lengthAdjust="spacingAndGlyphs" fill="#000">(K562)</text>
<text x="1480.8" y="868.0" font-size="27.3" textLength="87.5" lengthAdjust="spacingAndGlyphs" fill="#000" font-style="italic">VEGFA</text>
<text x="1491.0" y="900.1" font-size="27.3" textLength="67.0" lengthAdjust="spacingAndGlyphs" fill="#000" font-style="italic">site 3</text>
<text x="1457.0" y="932.2" font-size="27.3" textLength="135.0" lengthAdjust="spacingAndGlyphs" fill="#000">(HEK293T)</text>
<line x1="1712.3" y1="572.4" x2="1712.3" y2="830.8" stroke="#333" stroke-width="1.4" />
<line x1="1701.8" y1="820.3" x2="2129.6" y2="820.3" stroke="#333" stroke-width="1.4" />
<line x1="1851.5" y1="820.3" x2="1851.5" y2="830.8" stroke="#333" stroke-width="1.4" />
<line x1="1990.6" y1="820.3" x2="1990.6" y2="830.8" stroke="#333" stroke-width="1.4" />
<line x1="2129.6" y1="820.3" x2="2129.6" y2="830.8" stroke="#333" stroke-width="1.4" />
<text x="1674.9" y="827.2" font-size="23.8" textLength="16.0" lengthAdjust="spacingAndGlyphs" fill="#000">0</text>
<line x1="1701.8" y1="770.7" x2="1712.3" y2="770.7" stroke="#333" stroke-width="1.4" />
<text x="1675.9" y="777.6" font-size="23.8" textLength="15.0" lengthAdjust="spacingAndGlyphs" fill="#000">5</text>
<line x1="1701.8" y1="721.1" x2="1712.3" y2="721.1" stroke="#333" stroke-width="1.4" />
<text x="1665.4" y="728.0" font-size="23.8" textLength="25.5" lengthAdjust="spacingAndGlyphs" fill="#000">10</text>
<line x1="1701.8" y1="671.6" x2="1712.3" y2="671.6" stroke="#333" stroke-width="1.4" />
<text x="1665.4" y="678.5" font-size="23.8" textLength="25.5" lengthAdjust="spacingAndGlyphs" fill="#000">15</text>
<line x1="1701.8" y1="622.0" x2="1712.3" y2="622.0" stroke="#333" stroke-width="1.4" />
<text x="1661.4" y="628.9" font-size="23.8" textLength="29.5" lengthAdjust="spacingAndGlyphs" fill="#000">20</text>
<line x1="1701.8" y1="572.4" x2="1712.3" y2="572.4" stroke="#333" stroke-width="1.4" />
<text x="1662.9" y="579.3" font-size="23.8" textLength="28.0" lengthAdjust="spacingAndGlyphs" fill="#000">25</text>
<rect x="1733.5" y="770.0" width="42.7" height="50.3" fill="#0070C0" stroke="#000" stroke-width="1.9"/>
<rect x="1788.2" y="641.4" width="42.3" height="178.9" fill="#C00000" stroke="#000" stroke-width="1.9"/>
<rect x="1872.9" y="720.2" width="43.1" height="100.1" fill="#0070C0" stroke="#000" stroke-width="1.9"/>
<rect x="1926.8" y="591.6" width="42.7" height="228.7" fill="#C00000" stroke="#000" stroke-width="1.9"/>
<rect x="2011.9" y="770.0" width="43.1" height="50.3" fill="#0070C0" stroke="#000" stroke-width="1.9"/>
<rect x="2066.5" y="641.4" width="42.7" height="178.9" fill="#C00000" stroke="#000" stroke-width="1.9"/>
<text transform="translate(1629.62 527.00) scale(1.585 1.119)" x="0" y="0" font-size="35" font-weight="bold" fill="#000" stroke="#000" stroke-width="1.04" stroke-linejoin="round">i</text>
<rect x="1750.0" y="541.1" width="16.8" height="16.8" fill="#0070C0" stroke="#000" stroke-width="1.8"/>
<rect x="1911.3" y="541.1" width="17.2" height="16.8" fill="#C00000" stroke="#000" stroke-width="1.8"/>
<text x="1778.5" y="559.5" font-size="27.3" textLength="103.0" lengthAdjust="spacingAndGlyphs" fill="#000">No drug</text>
<text x="1939.5" y="559.5" font-size="27.3" textLength="127.5" lengthAdjust="spacingAndGlyphs" fill="#000">Ku-60648</text>
<text x="1765.7" y="865.1" font-size="23.8" textLength="35.0" lengthAdjust="spacingAndGlyphs" fill="#000">4 h</text>
<text x="1897.5" y="865.1" font-size="23.8" textLength="44.0" lengthAdjust="spacingAndGlyphs" fill="#000">12 h</text>
<text x="2037.0" y="865.1" font-size="23.8" textLength="49.0" lengthAdjust="spacingAndGlyphs" fill="#000">24 h</text>
<text x="1788.8" y="911.8" font-size="27.3" textLength="266.0" lengthAdjust="spacingAndGlyphs" fill="#000"><tspan font-style="italic">HEK site 4</tspan> (HEK293T)</text>
<circle cx="231.6" cy="1143.6" r="52.7" fill="#FDE9A6"/>
<circle cx="161.4" cy="1143.9" r="105" fill="#ADDDEB"/>
<clipPath id="cp5"><circle cx="161.4" cy="1143.9" r="105"/></clipPath>
<circle cx="231.6" cy="1143.6" r="52.7" fill="#C9E9B3" clip-path="url(#cp5)"/>
<circle cx="161.4" cy="1143.9" r="105" fill="none" stroke="#000" stroke-width="2.3"/>
<circle cx="231.6" cy="1143.6" r="52.7" fill="none" stroke="#000" stroke-width="2.3"/>
<circle cx="504.1" cy="1164.3" r="92.7" fill="#ADDDEB"/>
<clipPath id="cp6"><circle cx="504.1" cy="1164.3" r="92.7"/></clipPath>
<circle cx="534.8" cy="1163.9" r="62.4" fill="#C9E9B3" clip-path="url(#cp6)"/>
<circle cx="504.1" cy="1164.3" r="92.7" fill="none" stroke="#000" stroke-width="2.3"/>
<circle cx="534.8" cy="1163.9" r="62.4" fill="none" stroke="#000" stroke-width="2.3"/>
<circle cx="716.4" cy="1164.7" r="58.7" fill="#ADDDEB"/>
<clipPath id="cp7"><circle cx="716.4" cy="1164.7" r="58.7"/></clipPath>
<circle cx="751.3" cy="1164.3" r="23.4" fill="#C9E9B3" clip-path="url(#cp7)"/>
<circle cx="716.4" cy="1164.7" r="58.7" fill="none" stroke="#000" stroke-width="2.3"/>
<circle cx="751.3" cy="1164.3" r="23.4" fill="none" stroke="#000" stroke-width="2.3"/>
<circle cx="918.0" cy="1164.6" r="53.4" fill="#ADDDEB"/>
<clipPath id="cp8"><circle cx="918.0" cy="1164.6" r="53.4"/></clipPath>
<circle cx="945.8" cy="1164.7" r="25.6" fill="#C9E9B3" clip-path="url(#cp8)"/>
<circle cx="918.0" cy="1164.6" r="53.4" fill="none" stroke="#000" stroke-width="2.3"/>
<circle cx="945.8" cy="1164.7" r="25.6" fill="none" stroke="#000" stroke-width="2.3"/>
<text transform="translate(-0.97 1025.94) scale(1.480 1.093)" x="0" y="0" font-size="35" font-weight="bold" fill="#000" stroke="#000" stroke-width="1.09" stroke-linejoin="round">j</text>
<text x="75.9" y="1020.8" font-size="27.3" textLength="160.0" lengthAdjust="spacingAndGlyphs" fill="#000" font-style="italic">VEGFA site 2</text>
<text x="438.8" y="1056.0" font-size="27.3" textLength="125.0" lengthAdjust="spacingAndGlyphs" fill="#000" font-style="italic">HEK site 4</text>
<text x="636.6" y="1090.5" font-size="27.3" textLength="159.0" lengthAdjust="spacingAndGlyphs" fill="#000" font-style="italic">FANCF site 2</text>
<text x="837.7" y="1096.0" font-size="27.3" textLength="159.0" lengthAdjust="spacingAndGlyphs" fill="#000" font-style="italic">VEGFA site 3</text>
<text x="91.5" y="1156.4" font-size="27.3" textLength="46.5" lengthAdjust="spacingAndGlyphs" fill="#000">146</text>
<text x="208.3" y="1156.4" font-size="27.3" textLength="32.0" lengthAdjust="spacingAndGlyphs" fill="#000">32</text>
<text x="268.9" y="1156.4" font-size="27.3" textLength="15.5" lengthAdjust="spacingAndGlyphs" fill="#000">3</text>
<text x="424.0" y="1177.2" font-size="27.3" textLength="31.0" lengthAdjust="spacingAndGlyphs" fill="#000">10</text>
<text x="515.3" y="1177.2" font-size="27.3" textLength="29.5" lengthAdjust="spacingAndGlyphs" fill="#000">13</text>
<text x="675.4" y="1177.5" font-size="27.3" textLength="29.5" lengthAdjust="spacingAndGlyphs" fill="#000">13</text>
<text x="744.2" y="1177.5" font-size="27.3" textLength="15.5" lengthAdjust="spacingAndGlyphs" fill="#000">2</text>
<text x="885.0" y="1177.5" font-size="27.3" textLength="15.5" lengthAdjust="spacingAndGlyphs" fill="#000">5</text>
<text x="935.3" y="1177.5" font-size="27.3" fill="#000">1</text>
<text x="294.8" y="1101.7" font-size="27.3" textLength="102.0" lengthAdjust="spacingAndGlyphs" fill="#D4A81E">No drug</text>
<text x="318.6" y="1133.2" font-size="27.3" textLength="54.0" lengthAdjust="spacingAndGlyphs" fill="#D4A81E">only</text>
<text x="265.6" y="1215.0" font-size="27.3" textLength="57.0" lengthAdjust="spacingAndGlyphs" fill="#62A82F">Both</text>
<text x="60.0" y="1286.0" font-size="27.3" textLength="169.0" lengthAdjust="spacingAndGlyphs" fill="#2F8DAA">DNA-PKi only</text>
</svg>
</body></html>
